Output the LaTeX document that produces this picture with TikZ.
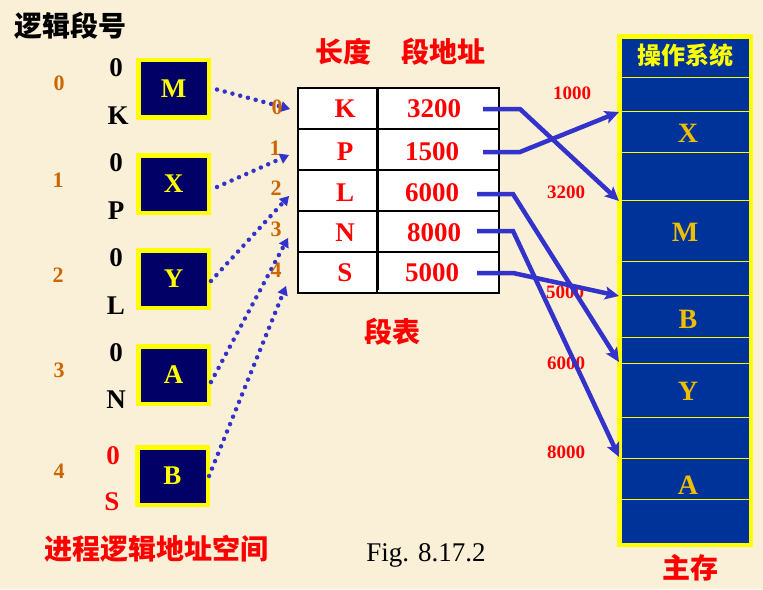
\documentclass[tikz,border=0pt]{standalone}
\usepackage{fontspec}
\setmainfont{Liberation Serif}
\newfontfamily\cjk{Noto Sans CJK SC}
\usetikzlibrary{arrows.meta}
\definecolor{bg}{RGB}{250,240,216}
\definecolor{navy}{RGB}{0,0,102}
\definecolor{memblue}{RGB}{0,51,153}
\definecolor{ylw}{RGB}{255,255,0}
\definecolor{gold}{RGB}{240,190,0}
\definecolor{org}{RGB}{204,102,0}
\definecolor{lblue}{RGB}{51,51,204}
\definecolor{red}{RGB}{255,0,0}
\begin{document}
\begin{tikzpicture}[x=1pt,y=-1pt,
  segbox/.style={draw=ylw, line width=4.5pt, fill=navy, minimum width=70.5pt, minimum height=57.5pt, inner sep=0pt, text=ylw, font=\bfseries\fontsize{27}{27}\selectfont},
  lbl/.style={inner sep=0pt, font=\bfseries\fontsize{27}{27}\selectfont},
  onum/.style={inner sep=0pt, text=org, font=\bfseries\fontsize{22}{22}\selectfont},
  cell/.style={draw=black, line width=1.3pt, fill=white, inner sep=0pt, minimum height=41pt},
  ttxt/.style={inner sep=0pt, text=red, font=\bfseries\fontsize{27}{27}\selectfont},
  addr/.style={inner sep=0pt, text=red, font=\bfseries\fontsize{19}{19}\selectfont},
  memtxt/.style={inner sep=0pt, text=gold, font=\bfseries\fontsize{28}{28}\selectfont},
  cjkt/.style={inner sep=0pt, font=\cjk\bfseries\fontsize{28}{28}\selectfont},
  dotarr/.style={draw=lblue, line width=4.5pt, line cap=round, dash pattern=on 0pt off 8pt, -{Triangle[length=9pt,width=11pt,line width=0pt,fill=lblue]}},
  conn/.style={draw=lblue, line width=4.5pt, -{Stealth[length=14pt,width=13pt,inset=3pt]}}
]
\fill[bg] (0,0) rectangle (763,589);
\useasboundingbox (0,0) rectangle (763,589);

% titles
\node[cjkt] (title) at (70,26) {逻辑段号};
\node[cjkt, text=red] (proc) at (156,549) {进程逻辑地址空间};
\node[cjkt, text=red] (hlen) at (343,52) {长度};
\node[cjkt, text=red] (haddr) at (443,52) {段地址};
\node[cjkt, text=red] (stab) at (392,332) {段表};
\node[cjkt, text=red] (mainmem) at (690,568) {主存};
\node[inner sep=0pt, anchor=base, font=\fontsize{27}{27}\selectfont] (fig) at (426,561) {Fig. 8.17.2};

% left segment boxes
\node[segbox] (M) at (173.5,88.5) {M};
\node[segbox] (X) at (173.5,184) {X};
\node[segbox] (Y) at (173.5,279) {Y};
\node[segbox] (A) at (173.5,375) {A};
\node[segbox] (B) at (172.5,476) {B};

% 0 / name labels
\node[lbl] (z0) at (116,68) {0};  \node[lbl] (nK) at (118,116) {K};
\node[lbl] (z1) at (116,163) {0}; \node[lbl] (nP) at (116,211) {P};
\node[lbl] (z2) at (116,258) {0}; \node[lbl] (nL) at (116,306) {L};
\node[lbl] (z3) at (116,353) {0}; \node[lbl] (nN) at (116,400) {N};
\node[lbl, text=red] (z4) at (113,456) {0}; \node[lbl, text=red] (nS) at (112,502) {S};

% orange segment numbers
\node[onum] (o0) at (59,83) {0};
\node[onum] (o1) at (58,180) {1};
\node[onum] (o2) at (58,275) {2};
\node[onum] (o3) at (59,370) {3};
\node[onum] (o4) at (59,471) {4};

% table
\node[cell, minimum width=79pt] (c0) at (337.5,108.5) {};
\node[cell, minimum width=122pt] (d0) at (438,108.5) {};
\node[cell, minimum width=79pt] (c1) at (337.5,149.5) {};
\node[cell, minimum width=122pt] (d1) at (438,149.5) {};
\node[cell, minimum width=79pt] (c2) at (337.5,190.5) {};
\node[cell, minimum width=122pt] (d2) at (438,190.5) {};
\node[cell, minimum width=79pt] (c3) at (337.5,231.5) {};
\node[cell, minimum width=122pt] (d3) at (438,231.5) {};
\node[cell, minimum width=79pt] (c4) at (337.5,272.5) {};
\node[cell, minimum width=122pt] (d4) at (438,272.5) {};
\draw[line width=1.8pt] (c0.north east) -- ([yshift=4pt]c4.south east);

\node[ttxt] (tK) at (345,109) {K}; \node[ttxt] (v0) at (434,109) {3200};
\node[ttxt] (tP) at (345,152) {P}; \node[ttxt] (v1) at (432,152) {1500};
\node[ttxt] (tL) at (345,193) {L}; \node[ttxt] (v2) at (432,193) {6000};
\node[ttxt] (tN) at (345,233) {N}; \node[ttxt] (v3) at (434,233) {8000};
\node[ttxt] (tS) at (345,273) {S}; \node[ttxt] (v4) at (432,273) {5000};

% memory
\node[draw=ylw, line width=4.5pt, fill=memblue, minimum width=131.5pt, minimum height=508.5pt, inner sep=0pt] (mem) at (685,290.5) {};
\foreach \yy in {77,111,152,200,261,295,337,363,417,458,499}
  \draw[ylw, line width=1pt] (621,\yy) -- (749,\yy);
\node[inner sep=0pt, text=ylw, font=\cjk\bfseries\fontsize{24}{24}\selectfont] (os) at (685,55) {操作系统};
\node[memtxt] (mX) at (688,133) {X};
\node[memtxt] (mM) at (685,232) {M};
\node[memtxt] (mB) at (688,319) {B};
\node[memtxt] (mY) at (688,391) {Y};
\node[memtxt] (mA) at (688,485) {A};

% address labels
\node[addr] (a1000) at (572,93) {1000};
\node[addr] (a3200) at (566,192) {3200};
\node[addr] (a5000) at (565,292) {5000};
\node[addr] (a6000) at (566,363) {6000};
\node[addr] (a8000) at (566,452) {8000};

% connectors table -> memory
\coordinate (s0) at (483,109); \coordinate (e0) at (619,201);
\coordinate (s1) at (483,152); \coordinate (e1) at (619,112);
\coordinate (s2) at (477,194); \coordinate (e2) at (619,362);
\coordinate (s3) at (477,231); \coordinate (e3) at (619,457);
\coordinate (s4) at (477,273); \coordinate (e4) at (619,296);
\draw[conn] (s0) -- ++(37,0) -- (e0);
\draw[conn] (s1) -- ++(37,0) -- (e1);
\draw[conn] (s2) -- ++(36,0) -- (e2);
\draw[conn] (s3) -- ++(36,0) -- (e3);
\draw[conn] (s4) -- ++(36,0) -- (e4);

% dotted arrows boxes -> table
\coordinate (q0) at (290,109);
\coordinate (q1) at (289,155);
\coordinate (q2) at (289,196);
\coordinate (q3) at (288,238);
\coordinate (q4) at (286,286);
\draw[dotarr] ([xshift=6pt,yshift=-1pt]M.east) -- (q0);
\draw[dotarr] ([xshift=6pt,yshift=-3pt]X.east) -- (q1);
\draw[dotarr] ([yshift=-2pt]Y.east) -- (q2);
\draw[dotarr] ([yshift=-7pt]A.east) -- (q3);
\draw[dotarr] ([xshift=-1pt]B.east) -- (q4);

% table-side numbers (drawn over the arrow tips)
\node[onum] (t0) at (277,107) {0};
\node[onum] (t1) at (275,148) {1};
\node[onum] (t2) at (276,188) {2};
\node[onum] (t3) at (276,229) {3};
\node[onum] (t4) at (276,270) {4};
\end{tikzpicture}
\end{document}
